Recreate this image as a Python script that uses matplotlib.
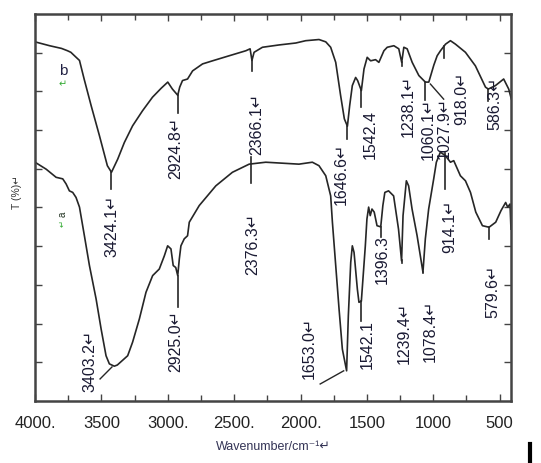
import numpy as np
import matplotlib
matplotlib.use("Agg")
from matplotlib import pyplot as plt
from matplotlib.lines import Line2D

plt.rcParams['font.family'] = ['Liberation Sans', 'DejaVu Sans']

# upper spectrum (b)
wn_b = [4000, 3890, 3800, 3755, 3730, 3690, 3665, 3630, 3577, 3515, 3455, 3424,
        3377, 3327, 3265, 3190, 3115, 3050, 3000, 2965, 2950, 2925, 2910, 2889,
        2851, 2813, 2738, 2663, 2538, 2412, 2380, 2366, 2350, 2287, 2162, 2036,
        1961, 1861, 1810, 1773, 1735, 1698, 1670, 1647, 1630, 1610, 1585, 1570,
        1542, 1522, 1498, 1472, 1435, 1410, 1372, 1347, 1297, 1260, 1238, 1222,
        1197, 1159, 1109, 1060, 1034, 996, 971, 946, 908, 871, 833, 758, 683,
        607, 586, 532, 470, 432, 412]
t_b = [92.8, 91.8, 91.1, 90.5, 90.1, 88.8, 88.0, 83.2, 76.3, 68.6, 60.8, 59.1,
       62.5, 66.8, 71.1, 75.0, 78.5, 80.8, 82.4, 80.6, 80.0, 79.0, 81.1, 82.8,
       83.2, 85.3, 87.1, 87.9, 89.2, 90.5, 91.0, 88.0, 90.1, 91.4, 92.0, 92.5,
       93.1, 93.4, 92.8, 91.4, 87.5, 78.9, 72.9, 71.0, 76.3, 81.5, 83.6, 82.8,
       80.2, 85.8, 88.8, 87.9, 88.2, 87.5, 90.5, 91.4, 91.8, 91.0, 87.5, 91.4,
       91.0, 87.5, 84.1, 82.4, 82.4, 86.8, 89.2, 90.5, 92.2, 93.1, 92.2, 90.1, 86.6,
       81.1, 80.6, 81.5, 83.2, 80.6, 78.0]

# lower spectrum (a)
wn_a = [4000, 3916, 3841, 3791, 3766, 3741, 3716, 3691, 3665, 3628, 3590, 3540,
        3502, 3465, 3440, 3403, 3380, 3302, 3265, 3214, 3164, 3114, 3064, 3026,
        3001, 2976, 2959, 2940, 2925, 2913, 2901, 2876, 2851, 2838, 2763, 2638,
        2513, 2387, 2262, 2012, 1911, 1861, 1810, 1773, 1760, 1735, 1710, 1685,
        1653, 1640, 1622, 1610, 1597, 1572, 1560, 1542, 1512, 1500, 1487, 1475,
        1462, 1445, 1424, 1396, 1380, 1365, 1337, 1299, 1262, 1239, 1228, 1203,
        1186, 1160, 1122, 1078, 1060, 1035, 997, 977, 947, 909, 871, 846, 796,
        758, 720, 680, 630, 580, 530, 490, 455, 440, 422, 415]
t_a = [61.7, 59.9, 57.8, 57.4, 56.1, 54.3, 53.9, 52.6, 50.1, 42.7, 35.0, 26.4,
       18.6, 11.7, 9.6, 9.0, 9.3, 11.7, 15.2, 21.2, 28.1, 32.4, 34.1, 37.5,
       40.1, 39.3, 35.0, 34.5, 32.4, 36.7, 40.1, 41.9, 42.7, 46.2, 50.5, 55.6,
       59.1, 61.2, 61.7, 61.2, 61.7, 60.8, 58.2, 53.0, 46.2, 35.0, 23.8, 13.4,
       7.8, 22.0, 35.8, 40.1, 38.4, 28.9, 25.5, 25.8, 40.1, 47.0, 50.1, 47.9,
       49.6, 48.8, 45.3, 45.0, 50.5, 53.9, 54.3, 53.0, 44.4, 36.2, 47.9, 56.9,
       55.6, 49.6, 42.7, 33.3, 41.9, 49.6, 57.4, 61.7, 64.3, 63.4, 61.7, 62.1, 58.2,
       56.9, 53.9, 48.8, 45.3, 44.9, 46.2, 49.2, 51.3, 50.1, 50.9, 44.4]

peaks_b = ['3424.1', '2924.8', '2366.1', '1646.6', '1542.4', '1238.1', '1060.1',
           '1027.9', '918.0', '586.3']
peaks_a = ['3403.2', '2925.0', '2376.3', '1653.0', '1542.1', '1396.3', '1239.4',
           '1078.4', '914.1', '579.6']
ret_b = [1, 1, 1, 1, 0, 1, 1, 1, 1, 1]
ret_a = [1, 1, 1, 1, 0, 0, 1, 1, 1, 1]

# layout of the peak labels: text centre (wavenumber), text top (T)
txt_b = [(3420, 53.5), (2937, 73.6), (2327, 79.8), (1693, 66.9), (1475, 75.5),
         (1188, 84.5), (1037, 78.6), (917, 78.8), (789, 85.3), (533, 84.0)]
txt_a = [(3585, 18.6), (2937, 23.8), (2357, 48.8), (1935, 22.0), (1497, 21.2),
         (1384, 43.2), (1219, 25.8), (1023, 26.4), (879, 52.2), (555, 35.4)]
# vertical tick under each peak (above, below curve); None = slanted leader
drop_b = [(0, 4.3), (0, 4.5), (0, 2.7), (0, 3.5), (0, 4.2), (0, 1.0), (0, 4.5),
          None, (0, 3.0), (0, 3.1)]
drop_a = [None, (0, 8.0), (1.8, 5.0), None, (0, 5.0), (0, 2.6), (0, 0.7),
          (0, 0.3), (0.5, 8.7), (0, 3.0)]
slant = {('b', 7): ((1022, 81.9), (922, 78.0)),
         ('a', 0): ((3420, 8.8), (3510, 5.7)),
         ('a', 3): ((1675, 7.8), (1852, 4.4))}

fig = plt.figure(figsize=(5.41, 4.64), dpi=100)
ax = fig.add_axes([0.0647, 0.1336, 0.8798, 0.8341])

line_col = '#262626'
ax.plot(wn_b, t_b, color=line_col, lw=1.2)
ax.plot(wn_a, t_a, color=line_col, lw=1.2)

txt_col = '#1a1a33'
for key, wn, tt, peaks, ret, txt, drop in [('b', wn_b, t_b, peaks_b, ret_b, txt_b, drop_b),
                                           ('a', wn_a, t_a, peaks_a, ret_a, txt_a, drop_a)]:
    for i, p in enumerate(peaks):
        pw = float(p)
        if drop[i] is None:
            (x0, y0), (x1, y1) = slant[(key, i)]
            ax.plot([x0, x1], [y0, y1], color=line_col, lw=1.0)
        else:
            yc = np.interp(pw, wn[::-1], tt[::-1])
            ax.plot([pw, pw], [yc + drop[i][0], yc - drop[i][1]], color=line_col, lw=1.2)
        label = p + ('\u21b5' if ret[i] else '')
        ax.text(txt[i][0], txt[i][1], label, rotation=90, ha='center', va='top',
                fontsize=11.5, color=txt_col)

# curve names
ax.text(3790, 85.5, 'b', fontsize=11, color='#222244', ha='center', va='center')
ax.text(3790, 82.0, '\u21b5', fontsize=7, color='#33aa33', ha='center', va='center')
ax.text(3790, 48.5, 'a', fontsize=7, color='#223322', rotation=90, ha='center', va='center')
ax.text(3790, 46.0, '\u21b5', fontsize=6, color='#33aa33', rotation=90, ha='center', va='center')

ax.set_xlim(4000, 415)
ax.set_ylim(0, 100)
ax.set_xticks([4000, 3500, 3000, 2500, 2000, 1500, 1000, 500])
ax.set_xticklabels(['4000.', '3500', '3000.', '2500.', '2000.', '1500', '1000', '500'],
                   fontsize=12, color='#222222')
ax.set_xticks(np.arange(3750, 400, -500), minor=True)
ax.set_yticks(np.arange(10, 100, 10))
ax.set_yticklabels([])
ax.tick_params(axis='both', which='major', direction='in', length=5, width=1,
               top=True, right=True, pad=10, colors='#444444')
ax.tick_params(axis='x', which='major', labelcolor='#222222')
ax.tick_params(axis='x', which='minor', direction='in', length=4, width=1,
               top=True, colors='#444444')
for s in ax.spines.values():
    s.set_color('#444444')
    s.set_linewidth(1.8)

ax.set_xlabel('Wavenumber/cm\u207b\u00b9\u21b5', fontsize=9, color='#333355', labelpad=7)
fig.text(17 / 541, 1 - 192 / 464, 'T (%)\u21b5', rotation=90, fontsize=7.5,
         color='#333333', ha='center', va='center')

# stray cursor mark at the bottom right
fig.add_artist(Line2D([0.98, 0.98], [0.0, 0.04], color='black', lw=3))

plt.savefig('out.png', dpi=100)
